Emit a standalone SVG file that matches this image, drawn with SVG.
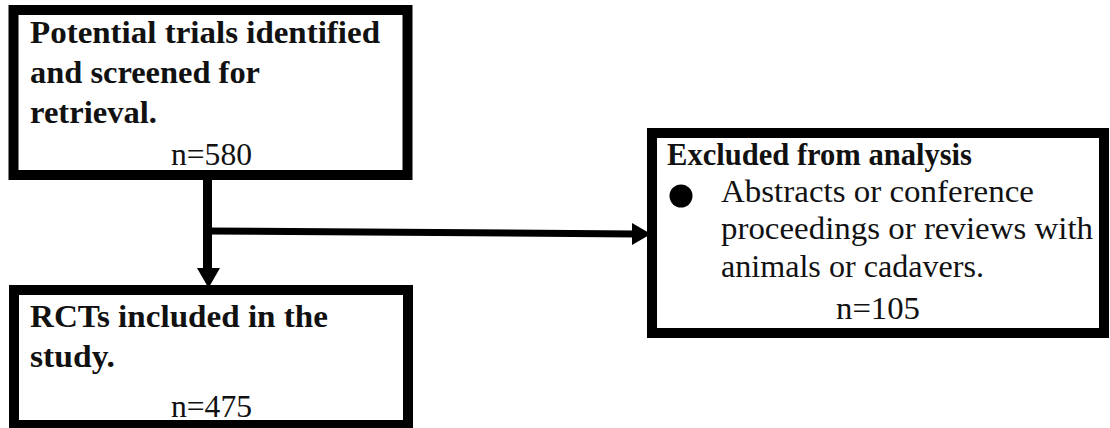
<svg xmlns="http://www.w3.org/2000/svg" width="1110" height="428" viewBox="0 0 1110 428">
<style>
.box{fill:#fff;stroke:#000;stroke-width:10}
.b{font-family:"Liberation Serif","Times New Roman",serif;font-weight:bold;font-size:32px;fill:#111}
.r{font-family:"Liberation Serif","Times New Roman",serif;font-size:32px;fill:#111}
.ln{stroke:#000;fill:none}
</style>
<rect width="1110" height="428" fill="#fff"/>
<g id="connectors">
<line class="ln" x1="207.5" y1="178" x2="207.5" y2="272" stroke-width="9"/>
<polygon points="197,268 220,268 208.5,288" fill="#000"/>
<line class="ln" x1="208" y1="231" x2="636" y2="234" stroke-width="7"/>
<polygon points="632,223 632,245 651,234" fill="#000"/>
</g>
<g id="node-potential">
<rect class="box" x="13.5" y="10" width="394" height="165"/>
<text class="b" x="30" y="43" textLength="350" lengthAdjust="spacingAndGlyphs">Potential trials identified</text>
<text class="b" x="30" y="83" textLength="230" lengthAdjust="spacingAndGlyphs">and screened for</text>
<text class="b" x="30" y="123" textLength="127" lengthAdjust="spacingAndGlyphs">retrieval.</text>
<text class="r" x="171" y="165" textLength="81" lengthAdjust="spacingAndGlyphs">n=580</text>
</g>
<g id="node-included">
<rect class="box" x="14" y="290" width="394" height="135"/>
<text class="b" x="30" y="327" textLength="298" lengthAdjust="spacingAndGlyphs">RCTs included in the</text>
<text class="b" x="30" y="367" textLength="85" lengthAdjust="spacingAndGlyphs">study.</text>
<text class="r" x="171" y="417" textLength="81" lengthAdjust="spacingAndGlyphs">n=475</text>
</g>
<g id="node-excluded">
<rect class="box" x="652" y="133" width="452" height="200"/>
<text class="b" x="667" y="165" textLength="305" lengthAdjust="spacingAndGlyphs">Excluded from analysis</text>
<circle cx="681" cy="196" r="11.5" fill="#000"/>
<text class="r" x="721" y="202" textLength="313" lengthAdjust="spacingAndGlyphs">Abstracts or conference</text>
<text class="r" x="721" y="239" textLength="372" lengthAdjust="spacingAndGlyphs">proceedings or reviews with</text>
<text class="r" x="721" y="277" textLength="263" lengthAdjust="spacingAndGlyphs">animals or cadavers.</text>
<text class="r" x="836" y="319" textLength="84" lengthAdjust="spacingAndGlyphs">n=105</text>
</g>
</svg>
